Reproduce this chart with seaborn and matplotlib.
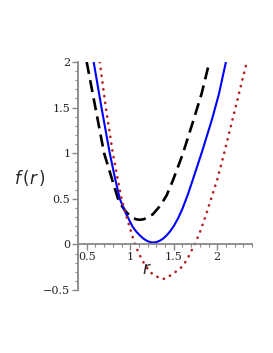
import numpy as np
import matplotlib
matplotlib.use('Agg')
import matplotlib.pyplot as plt
from matplotlib.ticker import MultipleLocator
import seaborn as sns

# curvas (r, f(r))
r_azul = [0.58, 0.67, 0.765, 0.82, 0.88, 0.95, 1.03, 1.07, 1.11, 1.15, 1.19, 1.23, 1.265, 1.30, 1.34, 1.38, 1.42, 1.46, 1.50, 1.55, 1.60, 1.66, 1.72, 1.83, 1.94, 2.02, 2.10]
f_azul = [2.0, 1.5, 1.0, 0.75, 0.5, 0.34, 0.19, 0.14, 0.10, 0.065, 0.04, 0.025, 0.02, 0.025, 0.04, 0.065, 0.10, 0.145, 0.20, 0.285, 0.39, 0.54, 0.71, 1.03, 1.37, 1.65, 2.0]

r_negro = [0.50, 0.60, 0.70, 0.78, 0.86, 0.905, 0.95, 0.99, 1.03, 1.07, 1.11, 1.15, 1.19, 1.26, 1.35, 1.42, 1.49, 1.60, 1.72, 1.82, 1.91]
f_negro = [2.0, 1.5, 1.0, 0.75, 0.5, 0.42, 0.36, 0.32, 0.29, 0.275, 0.27, 0.275, 0.29, 0.33, 0.43, 0.54, 0.70, 0.98, 1.34, 1.65, 2.0]

r_rojo = [0.65, 0.72, 0.80, 0.90, 0.95, 1.00, 1.055, 1.10, 1.16, 1.21, 1.25, 1.32, 1.38, 1.42, 1.48, 1.53, 1.59, 1.63, 1.67, 1.74, 1.80, 1.87, 1.93, 2.00, 2.08, 2.21, 2.34]
f_rojo = [2.0, 1.5, 1.0, 0.5, 0.33, 0.17, 0.0, -0.10, -0.21, -0.28, -0.32, -0.36, -0.38, -0.365, -0.33, -0.295, -0.25, -0.20, -0.135, 0.0, 0.13, 0.32, 0.5, 0.71, 1.0, 1.5, 2.0]

x_ticks = [0.5, 1, 1.5, 2]
x_labels = ['0.5', '1', '1.5', '2']
y_ticks = [-0.5, 0, 0.5, 1, 1.5, 2]
y_labels = ['\u22120.5', '0', '0.5', '1', '1.5', '2']

sns.set_style('white')
plt.rcParams['font.family'] = ['DejaVu Serif']

fig = plt.figure(figsize=(2.73, 3.53), dpi=100)
ax = fig.add_axes([78/273, 1-290/353, (252-78)/273, (290-62)/353])

sns.lineplot(x=r_negro, y=f_negro, ax=ax, color='black', lw=1.9, linestyle=(0, (4.6, 2.4)))
sns.lineplot(x=r_azul, y=f_azul, ax=ax, color='#0000FF', lw=1.5)
sns.lineplot(x=r_rojo, y=f_rojo, ax=ax, color='#B22222', lw=1.9,
             linestyle=(0, (0.1, 2.5)), dash_capstyle='round')

ax.set_xlim(0.4, 2.4)
ax.set_ylim(-0.5, 2)

# ejes estilo Maple
for s in ['top', 'right']:
    ax.spines[s].set_visible(False)
ax.spines['bottom'].set_position(('data', 0))
for s in ['left', 'bottom']:
    ax.spines[s].set_color('#888888')
    ax.spines[s].set_linewidth(1.3)

ax.set_xticks(x_ticks)
ax.set_xticklabels(x_labels)
ax.set_yticks(y_ticks)
ax.set_yticklabels(y_labels)
ax.xaxis.set_minor_locator(MultipleLocator(0.1))
ax.yaxis.set_minor_locator(MultipleLocator(0.1))
ax.tick_params(which='major', length=4, width=1, color='#888888', labelsize=8, pad=1.5)
ax.tick_params(which='minor', length=2, width=0.8, color='#888888')
ax.tick_params(axis='x', which='both', bottom=True)
ax.tick_params(axis='y', which='both', left=True)

ax.set_xlabel('')
ax.set_ylabel('')
fig.text(147/273, 1-270/353, '$r$', fontsize=12, ha='center', va='center')
fig.text(30/273, 1-178/353, '$f\\,(r\\,)$', fontsize=12, ha='center', va='center')

plt.savefig('out.png', dpi=100)
